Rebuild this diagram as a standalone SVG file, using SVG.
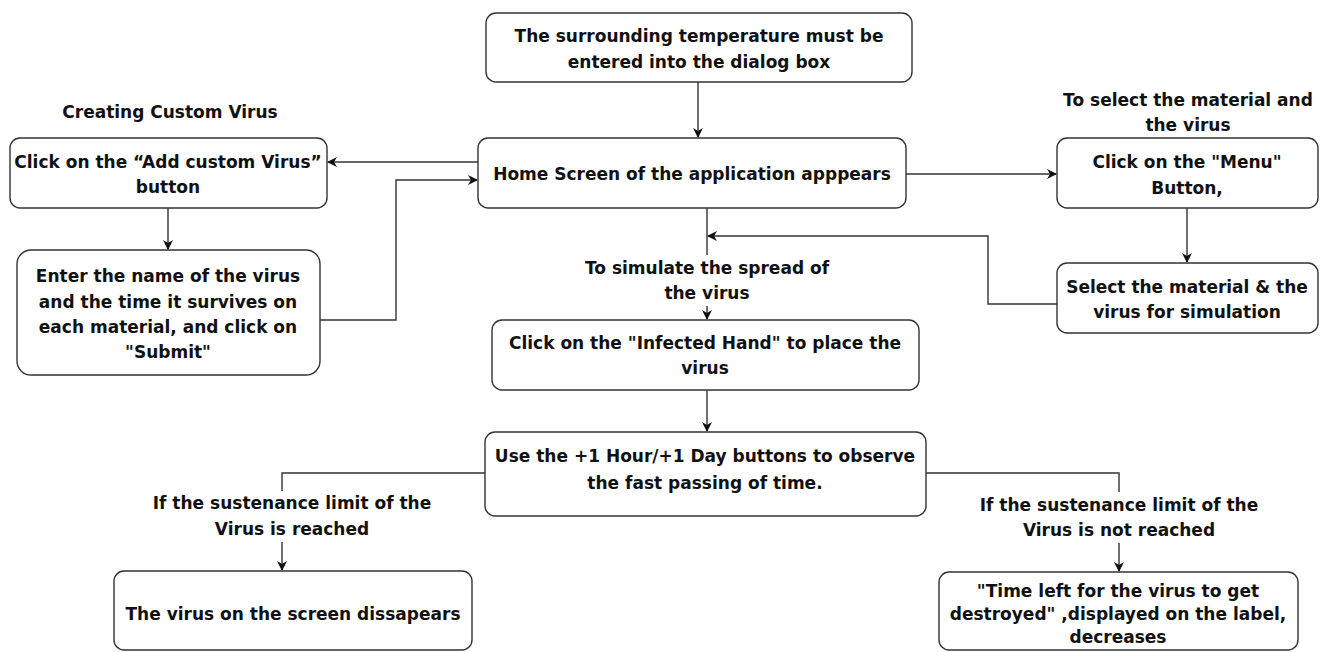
<svg xmlns="http://www.w3.org/2000/svg" width="1323" height="652" viewBox="0 0 1323 652">
<style>
.box{fill:#fff;stroke:#333;stroke-width:1.4}
.t{font-family:"DejaVu Sans",sans-serif;font-weight:bold;font-size:17px;fill:#111;text-anchor:middle}
.c{fill:none;stroke:#333;stroke-width:1.4}
</style>
<defs>
<marker id="ah" viewBox="0 0 10 10" refX="9" refY="5" markerWidth="10" markerHeight="10" markerUnits="userSpaceOnUse" orient="auto">
<path d="M0,0 L10,5 L0,10 L3,5 Z" fill="#111"/>
</marker>
</defs>
<rect width="1323" height="652" fill="#fff"/>
<g id="connectors">
<path class="c" d="M698,82 V137" marker-end="url(#ah)"/>
<path class="c" d="M478,162 H328" marker-end="url(#ah)"/>
<path class="c" d="M320,320 H396 V180 H477" marker-end="url(#ah)"/>
<path class="c" d="M906,174 H1056" marker-end="url(#ah)"/>
<path class="c" d="M168,208 V249" marker-end="url(#ah)"/>
<path class="c" d="M1187,208 V262" marker-end="url(#ah)"/>
<path class="c" d="M1057,304 H988 V236 H708" marker-end="url(#ah)"/>
<path class="c" d="M707,208 V255"/>
<path class="c" d="M707,306 V319" marker-end="url(#ah)"/>
<path class="c" d="M707,390 V431" marker-end="url(#ah)"/>
<path class="c" d="M485,473 H282 V491"/>
<path class="c" d="M282,542 V570" marker-end="url(#ah)"/>
<path class="c" d="M926,473 H1119 V492"/>
<path class="c" d="M1119,543 V571" marker-end="url(#ah)"/>
</g>
<g id="lbl-custom"><text class="t" x="170" y="118">Creating Custom Virus</text></g>
<g id="lbl-select"><text class="t" x="1188" y="106">To select the material and</text><text class="t" x="1188" y="131">the virus</text></g>
<g id="lbl-simulate"><text class="t" x="707" y="274">To simulate the spread of</text><text class="t" x="707" y="299">the virus</text></g>
<g id="lbl-reached"><text class="t" x="292" y="509">If the sustenance limit of the</text><text class="t" x="292" y="535">Virus is reached</text></g>
<g id="lbl-notreached"><text class="t" x="1119" y="511">If the sustenance limit of the</text><text class="t" x="1119" y="536">Virus is not reached</text></g>
<g id="n-temp"><rect class="box" x="486" y="13" width="426" height="69" rx="10"/><text class="t" x="699" y="42">The surrounding temperature must be</text><text class="t" x="699" y="68">entered into the dialog box</text></g>
<g id="n-home"><rect class="box" x="478" y="138" width="428" height="70" rx="10"/><text class="t" x="692" y="180">Home Screen of the application apppears</text></g>
<g id="n-add"><rect class="box" x="10" y="138" width="317" height="70" rx="10"/><text class="t" x="168" y="168">Click on the “Add custom Virus”</text><text class="t" x="168" y="193">button</text></g>
<g id="n-enter"><rect class="box" x="17" y="250" width="303" height="125" rx="14"/><text class="t" x="168" y="282">Enter the name of the virus</text><text class="t" x="168" y="308">and the time it survives on</text><text class="t" x="168" y="333">each material, and click on</text><text class="t" x="168" y="358">"Submit"</text></g>
<g id="n-menu"><rect class="box" x="1057" y="138" width="261" height="70" rx="10"/><text class="t" x="1187" y="168">Click on the "Menu"</text><text class="t" x="1187" y="194">Button,</text></g>
<g id="n-selectmat"><rect class="box" x="1057" y="263" width="261" height="70" rx="10"/><text class="t" x="1187" y="293">Select the material &amp; the</text><text class="t" x="1187" y="318">virus for simulation</text></g>
<g id="n-hand"><rect class="box" x="492" y="320" width="427" height="70" rx="10"/><text class="t" x="705" y="349">Click on the "Infected Hand" to place the</text><text class="t" x="705" y="374">virus</text></g>
<g id="n-use"><rect class="box" x="485" y="432" width="441" height="84" rx="10"/><text class="t" x="705" y="462">Use the +1 Hour/+1 Day buttons to observe</text><text class="t" x="705" y="489">the fast passing of time.</text></g>
<g id="n-disappear"><rect class="box" x="114" y="571" width="358" height="79" rx="10"/><text class="t" x="293" y="620">The virus on the screen dissapears</text></g>
<g id="n-timeleft"><rect class="box" x="939" y="572" width="359" height="78" rx="10"/><text class="t" x="1118" y="597">"Time left for the virus to get</text><text class="t" x="1118" y="620">destroyed" ,displayed on the label,</text><text class="t" x="1118" y="643">decreases</text></g>
</svg>
